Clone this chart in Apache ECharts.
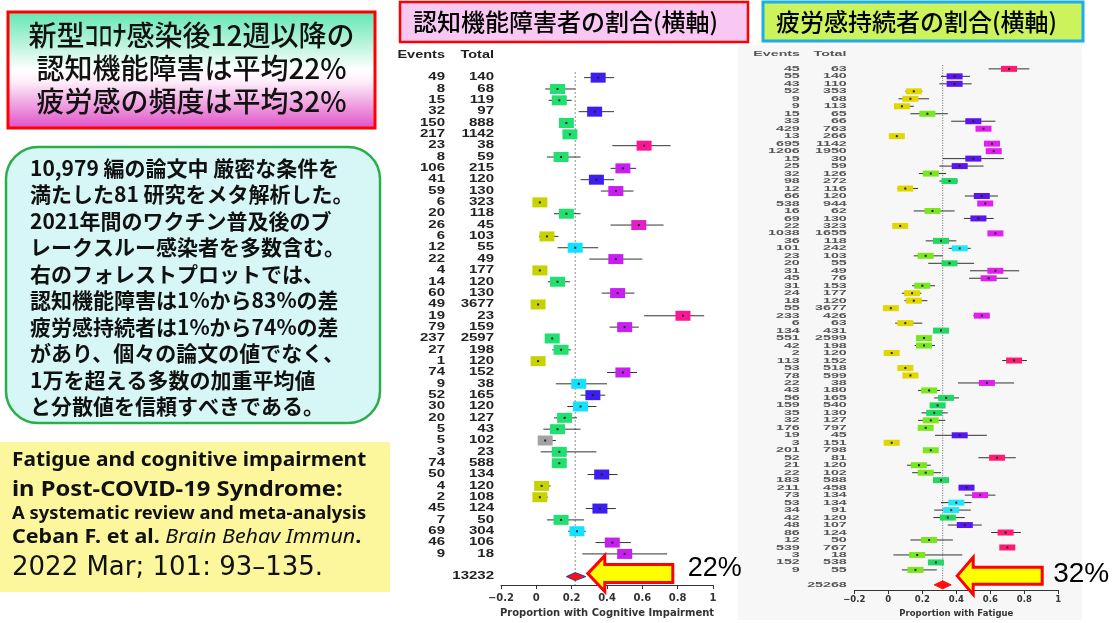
<!DOCTYPE html>
<html>
<head>
<meta charset="utf-8">
<script src="https://cdn.jsdelivr.net/npm/echarts@6.0.0/dist/echarts.min.js"></script>
<style>
  html, body { margin: 0; padding: 0; background: #fff; }
  #chart { width: 1113px; height: 623px; }
</style>
</head>
<body>
<div id="chart"></div>
<script>
const JP = '"Noto Sans CJK JP", sans-serif';
const AXIS_MIN = -0.2;
const AXIS_MAX = 1;
const AXIS_STEP = 0.2;

// --- cognitive impairment (left forest plot) ---
const cogEvents = [49, 8, 15, 32, 150, 217, 23, 8, 106, 41, 59, 6, 20, 26, 6, 12, 22, 4, 14, 60, 49, 19, 79, 237, 27, 1, 74, 9, 52, 30, 20, 5, 5, 3, 74, 50, 4, 2, 45, 7, 69, 46, 9];
const cogTotals = [140, 68, 119, 97, 888, 1142, 38, 59, 215, 120, 130, 323, 118, 45, 103, 55, 49, 177, 120, 130, 3677, 23, 159, 2597, 198, 120, 152, 38, 165, 120, 127, 43, 102, 23, 588, 134, 120, 108, 124, 50, 304, 106, 18];
const cogEst = [0.35, 0.12, 0.13, 0.33, 0.17, 0.19, 0.61, 0.14, 0.49, 0.34, 0.45, 0.02, 0.17, 0.58, 0.06, 0.22, 0.45, 0.02, 0.12, 0.46, 0.01, 0.83, 0.50, 0.09, 0.14, 0.01, 0.49, 0.24, 0.32, 0.25, 0.16, 0.12, 0.05, 0.13, 0.13, 0.37, 0.03, 0.02, 0.36, 0.14, 0.23, 0.43, 0.50];
const cogLow = [0.27, 0.05, 0.07, 0.24, 0.145, 0.17, 0.43, 0.06, 0.42, 0.25, 0.365, 0.007, 0.10, 0.42, 0.015, 0.12, 0.30, 0.006, 0.065, 0.37, 0.01, 0.61, 0.415, 0.08, 0.09, 0.0, 0.40, 0.11, 0.25, 0.175, 0.10, 0.04, 0.01, 0.025, 0.10, 0.29, 0.01, 0.002, 0.28, 0.06, 0.18, 0.335, 0.26];
const cogHigh = [0.44, 0.22, 0.20, 0.44, 0.195, 0.21, 0.76, 0.25, 0.565, 0.44, 0.55, 0.04, 0.25, 0.72, 0.125, 0.35, 0.60, 0.057, 0.19, 0.555, 0.018, 0.95, 0.58, 0.10, 0.195, 0.045, 0.57, 0.40, 0.39, 0.34, 0.23, 0.25, 0.11, 0.34, 0.155, 0.46, 0.08, 0.065, 0.45, 0.27, 0.28, 0.535, 0.74];
const cogGroup = ["B", "G", "G", "B", "G", "G", "R", "G", "P", "B", "P", "Y", "G", "M", "Y", "C", "P", "Y", "G", "P", "Y", "R", "P", "G", "G", "Y", "P", "C", "B", "C", "G", "G", "K", "G", "G", "B", "Y", "Y", "B", "G", "C", "P", "P"];
const cogSummary = { total: 13232, est: 0.22, low: 0.17, high: 0.28 };

// --- fatigue (right forest plot) ---
const fatEvents = [45, 55, 43, 52, 9, 9, 15, 33, 429, 13, 695, 1206, 15, 25, 32, 98, 12, 66, 538, 16, 69, 22, 1038, 36, 101, 23, 20, 31, 45, 31, 24, 18, 55, 233, 6, 134, 551, 42, 2, 113, 53, 78, 22, 43, 56, 159, 35, 32, 176, 19, 3, 201, 52, 21, 22, 183, 211, 73, 53, 34, 42, 48, 86, 12, 539, 3, 152, 9];
const fatTotals = [63, 140, 110, 353, 68, 113, 65, 66, 763, 266, 1142, 1950, 30, 59, 126, 272, 116, 120, 944, 62, 130, 323, 1655, 118, 242, 103, 55, 49, 76, 153, 177, 120, 3677, 426, 63, 431, 2599, 198, 120, 152, 518, 599, 38, 180, 165, 540, 130, 127, 797, 45, 151, 798, 81, 120, 102, 588, 458, 134, 134, 91, 120, 107, 124, 50, 767, 18, 538, 55];
const fatEst = [0.71, 0.39, 0.39, 0.15, 0.13, 0.08, 0.23, 0.50, 0.56, 0.05, 0.61, 0.62, 0.50, 0.42, 0.25, 0.36, 0.10, 0.55, 0.57, 0.26, 0.53, 0.07, 0.63, 0.31, 0.42, 0.22, 0.36, 0.63, 0.59, 0.20, 0.14, 0.15, 0.015, 0.55, 0.10, 0.31, 0.21, 0.21, 0.02, 0.74, 0.10, 0.13, 0.58, 0.24, 0.34, 0.29, 0.27, 0.25, 0.22, 0.42, 0.02, 0.25, 0.64, 0.18, 0.22, 0.31, 0.46, 0.54, 0.40, 0.37, 0.35, 0.45, 0.69, 0.24, 0.70, 0.17, 0.28, 0.16];
const fatLow = [0.59, 0.31, 0.30, 0.10, 0.06, 0.035, 0.13, 0.37, 0.527, 0.03, 0.58, 0.60, 0.32, 0.30, 0.18, 0.30, 0.055, 0.45, 0.54, 0.15, 0.445, 0.04, 0.60, 0.22, 0.355, 0.15, 0.235, 0.48, 0.475, 0.14, 0.08, 0.095, 0.011, 0.50, 0.04, 0.27, 0.196, 0.155, 0.002, 0.67, 0.078, 0.105, 0.41, 0.175, 0.27, 0.255, 0.195, 0.175, 0.19, 0.275, 0.004, 0.22, 0.53, 0.11, 0.14, 0.275, 0.415, 0.45, 0.31, 0.27, 0.265, 0.35, 0.605, 0.13, 0.67, 0.03, 0.245, 0.08];
const fatHigh = [0.83, 0.48, 0.49, 0.20, 0.24, 0.15, 0.35, 0.63, 0.597, 0.08, 0.64, 0.64, 0.68, 0.56, 0.34, 0.41, 0.175, 0.645, 0.60, 0.39, 0.62, 0.10, 0.65, 0.40, 0.485, 0.32, 0.505, 0.77, 0.705, 0.275, 0.195, 0.23, 0.02, 0.594, 0.20, 0.355, 0.228, 0.275, 0.06, 0.815, 0.13, 0.16, 0.74, 0.305, 0.415, 0.335, 0.35, 0.335, 0.25, 0.58, 0.057, 0.28, 0.75, 0.25, 0.31, 0.35, 0.505, 0.63, 0.49, 0.485, 0.45, 0.55, 0.78, 0.38, 0.735, 0.435, 0.32, 0.285];
const fatGroup = ["R", "V", "V", "Y", "Y", "Y", "L", "V", "M", "Y", "M", "M", "V", "V", "L", "G", "Y", "V", "M", "L", "V", "Y", "M", "G", "C", "L", "G", "M", "M", "L", "Y", "Y", "Y", "M", "Y", "G", "L", "L", "Y", "R", "Y", "Y", "M", "L", "G", "G", "G", "L", "L", "V", "Y", "L", "R", "L", "L", "G", "V", "M", "C", "C", "G", "V", "R", "L", "R", "L", "G", "L"];
const fatSummary = { total: 25268, est: 0.32, low: 0.27, high: 0.37 };

// --- slide text ---
const titleLines = ["新型ｺﾛﾅ感染後12週以降の", "認知機能障害は平均22%", "疲労感の頻度は平均32%"];
const noteLines = [
  "10,979 編の論文中 厳密な条件を",
  "満たした81 研究をメタ解析した。",
  "2021年間のワクチン普及後のブ",
  "レークスルー感染者を多数含む。",
  "右のフォレストプロットでは、",
  "認知機能障害は1%から83%の差",
  "疲労感持続者は1%から74%の差",
  "があり、個々の論文の値でなく、",
  "1万を超える多数の加重平均値",
  "と分散値を信頼すべきである。",
];
const cogHeader = "認知機能障害者の割合(横軸)";
const fatHeader = "疲労感持続者の割合(横軸)";
const cogAxisName = "Proportion with Cognitive Impairment";
const fatAxisName = "Proportion with Fatigue";

const COG_COLORS = { Y: "#c8d200", G: "#22e070", C: "#12e2ff", B: "#3c1ef0", P: "#c61ff0", M: "#e41ec8", R: "#ff1493", K: "#a3a3a3" };
const FAT_COLORS = { R: "#ff1a72", V: "#5a16f0", Y: "#e2d600", L: "#7ae61e", M: "#e21ff0", G: "#20d862", C: "#22e6f8" };

const PLOTS = [
  {
    events: cogEvents, totals: cogTotals, est: cogEst, low: cogLow, high: cogHigh,
    group: cogGroup, colors: COG_COLORS, summary: cogSummary,
    grid: { left: 501, width: 212, top: 66.3, height: 522.9 }, rowMax: 45.75,
    boxW: 15, boxH: 10, diamondH: 4, diamondStroke: "#2a3aa0",
    numFont: 'bold 10px "Liberation Sans", Arial, sans-serif', numScale: 1.5, numColor: "#222",
    eventsOffset: 56, totalOffset: 7,
    refColor: "#8a8a8a", refType: [2, 2],
    labelFont: 10, labelMargin: 8, nameGap: 19, axisName: cogAxisName,
    arrow: { gap: 2, dy: -3, head: 17, headH: 18, shaftH: 9, len: 85, textDx: 100, textDy: -5, font: '27px "Liberation Sans", Arial, sans-serif' },
  },
  {
    events: fatEvents, totals: fatTotals, est: fatEst, low: fatLow, high: fatHigh,
    group: fatGroup, colors: FAT_COLORS, summary: fatSummary,
    grid: { left: 854.3, width: 204, top: 61.4, height: 535.9 }, rowMax: 70.7,
    boxW: 16, boxH: 6, diamondH: 4, diamondStroke: "#ff1010",
    numFont: 'bold 7.5px "Liberation Sans", Arial, sans-serif', numScale: 1.9, numColor: "#555",
    eventsOffset: 54.5, totalOffset: 7.5,
    refColor: "#666", refType: [1, 1.5],
    labelFont: 8.5, labelMargin: 5, nameGap: 12, axisName: fatAxisName,
    arrow: { gap: 6, dy: -9, head: 16, headH: 18.5, shaftH: 8.5, len: 85, textDx: 96, textDy: -2, font: '28px "Liberation Sans", Arial, sans-serif' },
  },
];

function tickLabel(value) {
  if (Math.abs(value) < 1e-9) return "0";
  if (Math.abs(value - 1) < 1e-9) return "1";
  return (value < 0 ? "\u2212" : "") + Math.abs(value).toFixed(1);
}

function numberText(x, y, text, p) {
  return {
    type: "text", x, y, scaleX: p.numScale,
    style: { text, font: p.numFont, fill: p.numColor, align: "right", textAlign: "right", verticalAlign: "middle", textVerticalAlign: "middle" },
  };
}

function studyRenderer(p) {
  return function (params, api) {
    const i = params.dataIndex;
    const row = api.value(1);
    const c = api.coord([api.value(0), row]);
    const lo = api.coord([api.value(2), row])[0];
    const hi = api.coord([api.value(3), row])[0];
    const left = api.coord([AXIS_MIN, row])[0];
    return {
      type: "group",
      children: [
        { type: "line", shape: { x1: lo, y1: c[1], x2: hi, y2: c[1] }, style: { stroke: "#333", lineWidth: 1 } },
        { type: "rect", shape: { x: c[0] - p.boxW / 2, y: c[1] - p.boxH / 2, width: p.boxW, height: p.boxH }, style: { fill: p.colors[p.group[i]] } },
        { type: "rect", shape: { x: c[0] - 1, y: c[1] - 1, width: 2, height: 2 }, style: { fill: "#222" } },
        numberText(left - p.eventsOffset, c[1], String(p.events[i]), p),
        numberText(left - p.totalOffset, c[1], String(p.totals[i]), p),
      ],
    };
  };
}

function summaryRenderer(p) {
  return function (params, api) {
    const row = api.value(1);
    const c = api.coord([api.value(0), row]);
    const lo = api.coord([api.value(2), row])[0];
    const hi = api.coord([api.value(3), row])[0];
    const left = api.coord([AXIS_MIN, row])[0];
    const a = p.arrow;
    const tx = hi + a.gap;
    const ty = c[1] + a.dy;
    return {
      type: "group",
      children: [
        {
          type: "polygon",
          shape: { points: [[lo, c[1]], [c[0], c[1] - p.diamondH], [hi, c[1]], [c[0], c[1] + p.diamondH]] },
          style: { fill: "#ff1010", stroke: p.diamondStroke, lineWidth: 1 },
        },
        numberText(left - p.totalOffset, c[1], String(p.summary.total), p),
        {
          type: "polygon",
          shape: {
            points: [
              [tx, ty], [tx + a.head, ty - a.headH], [tx + a.head, ty - a.shaftH], [tx + a.len, ty - a.shaftH],
              [tx + a.len, ty + a.shaftH], [tx + a.head, ty + a.shaftH], [tx + a.head, ty + a.headH],
            ],
          },
          style: { fill: "#ffff00", stroke: "#ff0000", lineWidth: 3, lineJoin: "miter" },
        },
        {
          type: "text", x: tx + a.textDx, y: ty + a.textDy,
          style: { text: Math.round(api.value(0) * 100) + "%", font: a.font, fill: "#000", align: "left", textAlign: "left", verticalAlign: "middle", textVerticalAlign: "middle" },
        },
      ],
    };
  };
}

const grids = [];
const xAxes = [];
const yAxes = [];
const series = [];

PLOTS.forEach((p, k) => {
  const summaryRow = p.events.length + 2;
  grids.push(p.grid);
  xAxes.push({
    type: "value", gridIndex: k, min: AXIS_MIN, max: AXIS_MAX, interval: AXIS_STEP,
    position: "bottom",
    axisLine: { show: true, onZero: false, lineStyle: { color: "#333", width: 1 } },
    axisTick: { show: true, length: 4, lineStyle: { color: "#333" } },
    axisLabel: { formatter: tickLabel, margin: p.labelMargin, color: "#333", fontSize: p.labelFont, fontWeight: "bold", fontFamily: '"DejaVu Sans", sans-serif' },
    splitLine: { show: false },
    name: p.axisName, nameLocation: "middle", nameGap: p.nameGap,
    nameTextStyle: { color: "#333", fontSize: p.labelFont, fontWeight: "bold", fontFamily: '"DejaVu Sans", sans-serif' },
  });
  yAxes.push({ type: "value", gridIndex: k, min: 0, max: p.rowMax, inverse: true, show: false });

  series.push({
    type: "line", xAxisIndex: k, yAxisIndex: k, silent: true, symbol: "none", z: 1,
    data: [[p.summary.est, 0.5], [p.summary.est, p.rowMax]],
    lineStyle: { color: p.refColor, width: 1, type: p.refType },
  });
  series.push({
    type: "custom", xAxisIndex: k, yAxisIndex: k, silent: true,
    renderItem: studyRenderer(p),
    data: p.est.map((v, i) => [v, i + 1, p.low[i], p.high[i]]),
    encode: { x: 0, y: 1 },
  });
  series.push({
    type: "custom", xAxisIndex: k, yAxisIndex: k, silent: true, z: 5,
    renderItem: summaryRenderer(p),
    data: [[p.summary.est, summaryRow, p.summary.low, p.summary.high]],
    encode: { x: 0, y: 1 },
  });
});

function txt(text, x, y, font, opts) {
  const o = opts || {};
  return {
    type: "text", x, y, z: o.z || 10, scaleX: o.scaleX || 1,
    style: {
      text, font, fill: o.fill || "#000",
      align: o.align || "left", textAlign: o.align || "left",
      verticalAlign: "middle", textVerticalAlign: "middle",
      rich: o.rich,
    },
  };
}

const graphic = [
  // right plot panel
  { type: "rect", z: -1, shape: { x: 738, y: 45, width: 344, height: 575 }, style: { fill: "#f7f7f7" } },
  // title box
  {
    type: "rect", shape: { x: 8, y: 12, width: 367, height: 116 },
    style: {
      fill: { type: "linear", x: 0, y: 0, x2: 0, y2: 1, colorStops: [
        { offset: 0, color: "#5fe6b0" }, { offset: 0.5, color: "#ffffff" },
        { offset: 0.6, color: "#fdeef9" }, { offset: 1, color: "#e04cc6" },
      ] },
      stroke: "#ff0000", lineWidth: 3,
    },
  },
  // notes box
  { type: "rect", shape: { x: 6, y: 147, width: 374, height: 276, r: 32 }, style: { fill: "#d7f7f6", stroke: "#2aae48", lineWidth: 2.5 } },
  // citation box
  { type: "rect", shape: { x: 0, y: 442, width: 390, height: 150 }, style: { fill: "#fcf79d" } },
  // plot headers
  { type: "rect", shape: { x: 400, y: 2, width: 348, height: 40 }, style: { fill: "#f9c8f2", stroke: "#ff0000", lineWidth: 2.5 } },
  { type: "rect", shape: { x: 763, y: 2, width: 320, height: 39 }, style: { fill: "#cdf35c", stroke: "#1aaeea", lineWidth: 3 } },
  txt(cogHeader, 413, 22, `500 24px ${JP}`),
  txt(fatHeader, 776, 21.5, `500 24px ${JP}`),
  // column headers
  txt("Events", 445, 55, 'bold 10px "Liberation Sans", Arial, sans-serif', { align: "right", scaleX: 1.45, fill: "#222" }),
  txt("Total", 494, 55, 'bold 10px "Liberation Sans", Arial, sans-serif', { align: "right", scaleX: 1.45, fill: "#222" }),
  txt("Events", 800, 54, 'bold 7.5px "Liberation Sans", Arial, sans-serif', { align: "right", scaleX: 1.9, fill: "#555" }),
  txt("Total", 846.5, 54, 'bold 7.5px "Liberation Sans", Arial, sans-serif', { align: "right", scaleX: 1.9, fill: "#555" }),
  // citation
  txt("Fatigue and cognitive impairment", 12, 461, 'bold 19px "Noto Sans", sans-serif', { fill: "#111", scaleX: 1.1 }),
  txt("in Post-COVID-19 Syndrome:", 12, 490, 'bold 22px "Noto Sans", sans-serif', { fill: "#111", scaleX: 1.08 }),
  txt("A systematic review and meta-analysis", 12, 514, 'bold 17px "Noto Sans", sans-serif', { fill: "#111", scaleX: 1.08 }),
  txt("{a|Ceban F. et al. }{b|Brain Behav Immun}{a|.}", 12, 538, 'bold 19px "Noto Sans", sans-serif', {
    fill: "#111", scaleX: 1.13,
    rich: {
      a: { font: 'bold 19px "Noto Sans", sans-serif', fill: "#111" },
      b: { font: 'italic 19px "Noto Sans", sans-serif', fill: "#111" },
    },
  }),
  txt("2022 Mar; 101: 93\u2013135.", 12, 568, '26px "DejaVu Sans", sans-serif', { fill: "#111" }),
];

titleLines.forEach((line, i) => {
  graphic.push(txt(line, 191.5, 35 + i * 33, `500 28px ${JP}`, { align: "center", fill: "#111" }));
});
noteLines.forEach((line, i) => {
  graphic.push(txt(line, 30, 168 + i * 26.5, `bold 21px ${JP}`, { fill: "#111" }));
});

const chart = echarts.init(document.getElementById("chart"), null, { renderer: "canvas" });
chart.setOption({
  backgroundColor: "#ffffff",
  animation: false,
  grid: grids,
  xAxis: xAxes,
  yAxis: yAxes,
  series,
  graphic,
});
</script>
</body>
</html>
